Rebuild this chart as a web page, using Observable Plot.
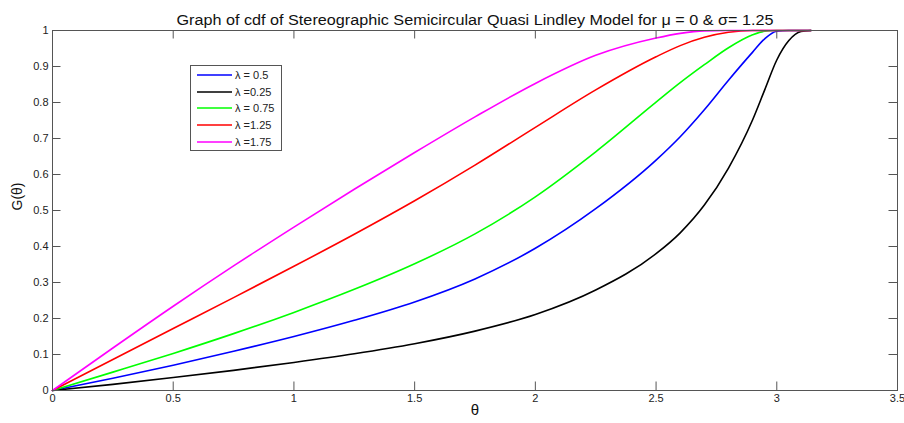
<!DOCTYPE html>
<html><head><meta charset="utf-8">
<script src="https://cdn.jsdelivr.net/npm/d3@7"></script>
<script src="https://cdn.jsdelivr.net/npm/@observablehq/plot@0.6"></script>
<style>
body{margin:0;background:#fff;font-family:"Liberation Sans",Arial,sans-serif;}
#wrap{position:relative;width:904px;height:423px;}
#legend{position:absolute;left:190px;top:65px;width:92px;height:86px;border:1px solid #555;background:#fff;box-sizing:border-box;padding-top:1px;}
.row{height:16.6px;display:flex;align-items:center;font-size:11px;color:#222;}
.sw{margin-left:6px;display:block;}
.lb{margin-left:3px;white-space:pre;}
</style></head><body><div id="wrap"></div>
<script>
const titleText = "Graph of cdf of Stereographic Semicircular Quasi Lindley Model for μ = 0 & σ= 1.25";
const xLabel = "θ";
const yLabel = "G(θ)";
const theta = [0, 0.25, 0.5, 0.75, 1, 1.25, 1.5, 1.75, 2, 2.25, 2.5, 2.6, 2.7, 2.8, 2.9, 2.95, 3.0, 3.05, 3.1, 3.1416];
const seriesLabels = ["λ = 0.5", "λ =0.25", "λ = 0.75", "λ =1.25", "λ =1.75"];
const seriesColors = ["#0000ff", "#000000", "#00ff00", "#ff0000", "#ff00ff"];
const g_05  = [0, 0.034, 0.070, 0.109, 0.150, 0.195, 0.246, 0.310, 0.395, 0.505, 0.640, 0.705, 0.780, 0.862, 0.940, 0.977, 0.998, 1, 1, 1];
const g_025 = [0, 0.017, 0.036, 0.056, 0.078, 0.102, 0.130, 0.165, 0.211, 0.279, 0.380, 0.438, 0.515, 0.618, 0.752, 0.835, 0.918, 0.972, 0.997, 1];
const g_075 = [0, 0.051, 0.103, 0.158, 0.217, 0.281, 0.352, 0.435, 0.538, 0.663, 0.801, 0.855, 0.905, 0.952, 0.988, 0.998, 1, 1, 1, 1];
const g_125 = [0, 0.086, 0.172, 0.258, 0.345, 0.434, 0.527, 0.626, 0.731, 0.835, 0.927, 0.958, 0.981, 0.995, 1, 1, 1, 1, 1, 1];
const g_175 = [0, 0.118, 0.234, 0.346, 0.454, 0.559, 0.661, 0.760, 0.853, 0.931, 0.979, 0.992, 0.999, 1, 1, 1, 1, 1, 1, 1];
const xTicks = [0, 0.5, 1, 1.5, 2, 2.5, 3, 3.5];
const xTickLabels = ["0", "0.5", "1", "1.5", "2", "2.5", "3", "3.5"];
const yTicks = [0, 0.1, 0.2, 0.3, 0.4, 0.5, 0.6, 0.7, 0.8, 0.9, 1];
const yTickLabels = ["0", "0.1", "0.2", "0.3", "0.4", "0.5", "0.6", "0.7", "0.8", "0.9", "1"];

const seriesValues = [g_05, g_025, g_075, g_125, g_175];
const rows = [];
seriesValues.forEach((vals, s) => vals.forEach((v, i) => rows.push({theta: theta[i], G: v, series: seriesLabels[s]})));

const W = 904, H = 423, mL = 52, mR = 7, mT = 30, mB = 33;
const pw = W - mL - mR, ph = H - mT - mB, tk = 8.5, axisColor = "#555";

const chart = Plot.plot({
  width: W, height: H, marginLeft: mL, marginRight: mR, marginTop: mT, marginBottom: mB,
  style: {fontFamily: "Liberation Sans, Arial, sans-serif", fontSize: "11px", color: "#222", background: "#fff"},
  x: {domain: [0, 3.5]},
  y: {domain: [0, 1]},
  color: {domain: seriesLabels, range: seriesColors},
  marks: [
    Plot.line(rows, {x: "theta", y: "G", z: "series", stroke: "series", strokeWidth: 1.6, curve: "monotone-x"}),
    Plot.frame({stroke: axisColor}),
    Plot.ruleX(xTicks, {x: d => d, insetTop: ph - tk, stroke: axisColor}),
    Plot.ruleX(xTicks, {x: d => d, insetBottom: ph - tk, stroke: axisColor}),
    Plot.ruleY(yTicks, {y: d => d, insetRight: pw - tk, stroke: axisColor}),
    Plot.ruleY(yTicks, {y: d => d, insetLeft: pw - tk, stroke: axisColor}),
    Plot.axisX(xTicks, {tickSize: 0, tickPadding: 4, tickFormat: d => xTickLabels[xTicks.indexOf(d)], label: null}),
    Plot.axisY(yTicks, {tickSize: 0, tickPadding: 4, tickFormat: d => yTickLabels[yTicks.indexOf(d)], label: null}),
    Plot.text([titleText], {frameAnchor: "top", dy: -17, fontSize: 15.5, fill: "#111", className: "ttl"}),
    Plot.text([xLabel], {frameAnchor: "bottom", dy: 24, fontSize: 15, fill: "#111"}),
    Plot.text([yLabel], {frameAnchor: "left", dx: -35, rotate: -90, fontSize: 14, fill: "#111"})
  ]
});
const wrap = document.getElementById("wrap");
wrap.appendChild(chart);
d3.select(chart).selectAll("g.ttl text").attr("textLength", 597).attr("lengthAdjust", "spacingAndGlyphs");

const NS = "http://www.w3.org/2000/svg";
const legend = document.createElement("div");
legend.id = "legend";
seriesLabels.forEach((lab, i) => {
  const r = document.createElement("div"); r.className = "row";
  const sw = document.createElementNS(NS, "svg");
  sw.setAttribute("width", "35"); sw.setAttribute("height", "6"); sw.setAttribute("class", "sw");
  const ln = document.createElementNS(NS, "line");
  ln.setAttribute("x1", "0"); ln.setAttribute("x2", "35"); ln.setAttribute("y1", "3"); ln.setAttribute("y2", "3");
  ln.setAttribute("stroke", seriesColors[i]); ln.setAttribute("stroke-width", "1.6");
  sw.appendChild(ln);
  const t = document.createElement("span"); t.className = "lb"; t.textContent = lab;
  r.appendChild(sw); r.appendChild(t); legend.appendChild(r);
});
wrap.appendChild(legend);
</script></body></html>
